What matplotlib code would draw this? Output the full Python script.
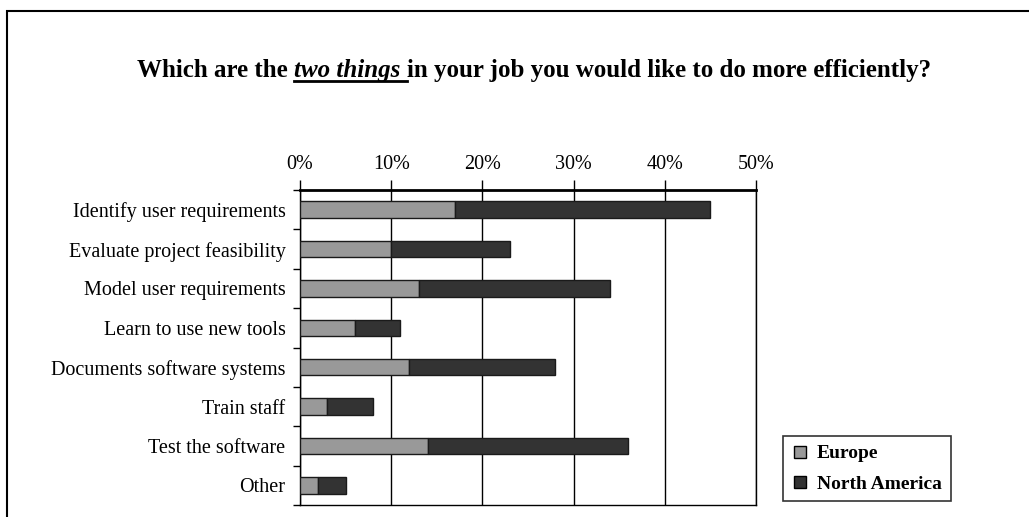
import matplotlib
matplotlib.use('Agg')
import matplotlib.pyplot as plt
from matplotlib.patches import Rectangle
from matplotlib.lines import Line2D
import numpy as np

plt.rcParams['font.family'] = ['Liberation Serif', 'DejaVu Serif']

categories = ['Identify user requirements', 'Evaluate project feasibility',
              'Model user requirements', 'Learn to use new tools',
              'Documents software systems', 'Train staff',
              'Test the software', 'Other']
europe = [17, 10, 13, 6, 12, 3, 14, 2]
north_america = [28, 13, 21, 5, 16, 5, 22, 3]
xticks = [0, 10, 20, 30, 40, 50]
xtick_labels = ['0%', '10%', '20%', '30%', '40%', '50%']

W, H = 1029, 517
fig = plt.figure(figsize=(W / 100, H / 100), dpi=100)

# outer frame (cut off on right and bottom)
fig.patches.append(Rectangle((7 / W, -0.1), 1.2, 1 - 10.5 / H + 0.1,
                             transform=fig.transFigure, fill=False,
                             edgecolor='black', linewidth=1.5))

ax = fig.add_axes([300 / W, 1 - 505 / H, 456 / W, 315 / H])
y = np.arange(len(categories))
ax.barh(y, europe, height=0.42, color='#999999', edgecolor='#1a1a1a',
        linewidth=1.0, label='Europe', zorder=3)
ax.barh(y, north_america, left=europe, height=0.42, color='#333333',
        edgecolor='#1a1a1a', linewidth=1.0, label='North America', zorder=3)

ax.set_xlim(0, 50)
ax.set_ylim(len(categories) - 0.5, -0.5)
ax.xaxis.tick_top()
ax.set_xticks(xticks)
ax.set_xticklabels(xtick_labels, fontsize=14.5)
ax.tick_params(axis='x', direction='out', length=7, width=1, pad=4.5, color='black')
ax.xaxis.grid(True, color='black', linewidth=1.0, zorder=0)

ax.set_yticks(y)
ax.set_yticklabels(categories, fontsize=14.5)
ax.tick_params(axis='y', length=0, pad=10.5)
ax.set_yticks(np.arange(-0.5, len(categories)), minor=True)
ax.tick_params(axis='y', which='minor', direction='out', length=5, width=1)

for s in ax.spines.values():
    s.set_linewidth(1.0)
ax.spines['top'].set_linewidth(2.0)

# legend
handles = [Line2D([], [], marker='s', linestyle='none', markersize=9,
                  markerfacecolor='#999999', markeredgecolor='black'),
           Line2D([], [], marker='s', linestyle='none', markersize=9,
                  markerfacecolor='#333333', markeredgecolor='black')]
leg = fig.legend(handles, ['Europe', 'North America'], loc='upper left',
                 bbox_to_anchor=(783 / W, 1 - 436 / H),
                 prop={'weight': 'bold', 'size': 14}, frameon=True,
                 fancybox=False, edgecolor='black', handlelength=0.8,
                 handletextpad=0.5, borderpad=0.45, labelspacing=0.65,
                 borderaxespad=0)
leg.get_frame().set_linewidth(1.2)

# title with italic underlined part
parts = [('Which are the ', 'normal'), ('two things ', 'italic'),
         ('in your job you would like to do more efficiently?', 'normal')]
fig.canvas.draw()
renderer = fig.canvas.get_renderer()
texts = []
widths = []
for s, style in parts:
    t = fig.text(0, 0, s, fontsize=18, fontweight='bold', style=style,
                 va='baseline', ha='left')
    bb = t.get_window_extent(renderer)
    texts.append(t)
    widths.append(bb.width)
total = sum(widths)
x0 = 534 - total / 2
base = H - 77
x = x0
for t, w in zip(texts, widths):
    t.set_position((x / W, base / H))
    x += w
ux0 = x0 + widths[0]
ux1 = ux0 + widths[1]
fig.lines.append(Line2D([ux0 / W, ux1 / W], [(base - 4) / H, (base - 4) / H],
                        transform=fig.transFigure, color='black', linewidth=2))

fig.savefig('out.png', dpi=100)
